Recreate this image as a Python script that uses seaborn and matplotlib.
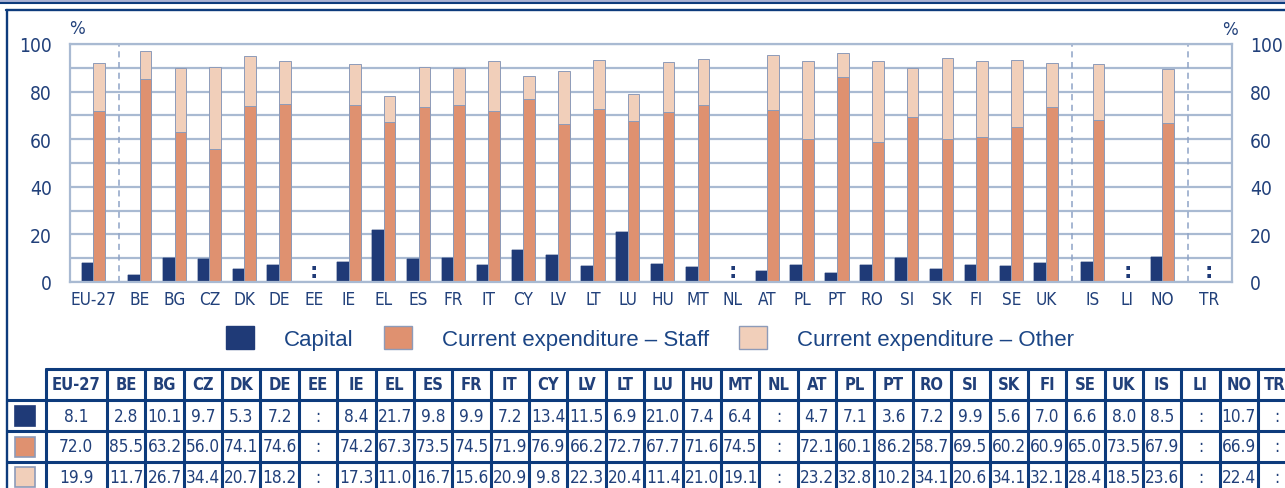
import numpy as np
import pandas as pd
import matplotlib
matplotlib.use("Agg")
import matplotlib.pyplot as plt
from matplotlib import font_manager as fm
from matplotlib.patches import Patch, Rectangle
import seaborn as sns

nan = np.nan

# Distribution of education expenditure by type (% of total)
countries = ["EU-27", "BE", "BG", "CZ", "DK", "DE", "EE", "IE", "EL", "ES", "FR",
             "IT", "CY", "LV", "LT", "LU", "HU", "MT", "NL", "AT", "PL", "PT",
             "RO", "SI", "SK", "FI", "SE", "UK", "IS", "LI", "NO", "TR"]
capital = [8.1, 2.8, 10.1, 9.7, 5.3, 7.2, nan, 8.4, 21.7, 9.8, 9.9,
           7.2, 13.4, 11.5, 6.9, 21.0, 7.4, 6.4, nan, 4.7, 7.1, 3.6,
           7.2, 9.9, 5.6, 7.0, 6.6, 8.0, 8.5, nan, 10.7, nan]
staff = [72.0, 85.5, 63.2, 56.0, 74.1, 74.6, nan, 74.2, 67.3, 73.5, 74.5,
         71.9, 76.9, 66.2, 72.7, 67.7, 71.6, 74.5, nan, 72.1, 60.1, 86.2,
         58.7, 69.5, 60.2, 60.9, 65.0, 73.5, 67.9, nan, 66.9, nan]
other = [19.9, 11.7, 26.7, 34.4, 20.7, 18.2, nan, 17.3, 11.0, 16.7, 15.6,
         20.9, 9.8, 22.3, 20.4, 11.4, 21.0, 19.1, nan, 23.2, 32.8, 10.2,
         34.1, 20.6, 34.1, 32.1, 28.4, 18.5, 23.6, nan, 22.4, nan]
series_labels = ["Capital", "Current expenditure \u2013 Staff",
                 "Current expenditure \u2013 Other"]
group_starts = ["BE", "IS", "TR"]
y_ticks = [0, 20, 40, 60, 80, 100]

NAVY = "#1f3a77"
STAFF = "#df9170"
OTHER = "#f1cfba"
EDGE = "#8d9bb9"
GRID = "#a9bad2"
FRAME = "#0d3b7c"
LAVENDER = "#a8b1d3"
TXT = "#21407a"
LEG_TXT = "#1b4585"

sns.set_style("white")

# pick a narrow sans face when one is available
entries = fm.fontManager.ttflist
if any(f.name == "Liberation Sans Narrow" for f in entries):
    NARROW = dict(family=["Liberation Sans Narrow", "DejaVu Sans"])
    nscale = 1.0
elif any(f.name == "DejaVu Sans" and str(f.stretch) in ("condensed", "semi-condensed")
         for f in entries):
    NARROW = dict(family=["DejaVu Sans"], stretch="condensed")
    nscale = 0.95
else:
    NARROW = dict(family=["Liberation Sans", "DejaVu Sans"])
    nscale = 0.86
plt.rcParams["font.family"] = ["Liberation Sans", "DejaVu Sans"]


def nfont(size, weight="normal"):
    return fm.FontProperties(size=size * nscale, weight=weight, **NARROW)


W, H = 1285, 489
fig = plt.figure(figsize=(W / 100, H / 100), dpi=100)

# category positions, with a small extra gap between country groups
gap = 0.33
pos = []
p = 0.0
for c in countries:
    if c in group_starts:
        p += gap
    pos.append(p)
    p += 1.0

rows = []
for x, k, s, o in zip(pos, capital, staff, other):
    if np.isnan(k):
        continue
    rows.append({"pos": x, "part": "Capital", "total": k, "staff": k})
    rows.append({"pos": x, "part": "Current", "total": s + o, "staff": s})
df = pd.DataFrame(rows)

ax = fig.add_axes([70 / W, 1 - 283 / H, (1232 - 70) / W, (283 - 45) / H])
common = dict(data=df, x="pos", hue="part", hue_order=["Capital", "Current"],
              native_scale=True, dodge=True, width=0.67, errorbar=None,
              legend=False, orient="x", saturation=1, linewidth=0.7,
              edgecolor=EDGE, ax=ax)
# full current bar (staff + other), then the staff part over it
sns.barplot(y="total", palette={"Capital": NAVY, "Current": OTHER}, **common)
sns.barplot(y="staff", palette={"Capital": NAVY, "Current": STAFF}, **common)
for patch in ax.patches:
    if matplotlib.colors.to_hex(patch.get_facecolor()) == NAVY:
        patch.set_edgecolor(NAVY)
        patch.set_linewidth(0.3)

# missing data marker
for x, k in zip(pos, capital):
    if np.isnan(k):
        ax.text(x, 2.0, ":", ha="center", va="baseline",
                fontproperties=fm.FontProperties(family=["DejaVu Sans"],
                                                 size=15, weight="bold"),
                color=NAVY)

# dashed separators between country groups
for c in group_starts:
    xs = pos[countries.index(c)] - 0.6
    ax.axvline(xs, ymin=0, ymax=1, color="#8ea3c6", lw=1.1,
               ls=(0, (4, 3)), zorder=1)

ax.set_xlim(-0.668, 32.66)
ax.set_ylim(0, 100)
ax.set_yticks(y_ticks)
ax.set_yticks([10, 30, 50, 70, 90], minor=True)
ax.grid(True, which="both", axis="y", color=GRID, lw=1.6)
ax.grid(False, axis="x")
ax.set_axisbelow(True)
ax.set_xticks(pos)
ax.set_xticklabels(countries)
ax.set_yticklabels([str(v) for v in y_ticks])
ax.set_xlabel("")
ax.set_ylabel("")
ax.tick_params(axis="x", length=0, pad=6, labelcolor=TXT)
ax.tick_params(axis="y", which="both", length=0, pad=13, labelcolor=TXT,
               labelleft=True, labelright=True)
for lab in ax.get_xticklabels():
    lab.set_fontproperties(nfont(13))
for t in ax.yaxis.get_major_ticks():
    t.label2.set_fontproperties(nfont(14.5))
    t.label1.set_fontproperties(nfont(14.5))
for side in ["left", "right", "bottom", "top"]:
    ax.spines[side].set_visible(True)
    ax.spines[side].set_color(GRID)
    ax.spines[side].set_linewidth(1.6)

fig.text(77 / W, 1 - 29 / H, "%", ha="center", va="center",
         fontproperties=nfont(14), color=TXT)
fig.text(1230 / W, 1 - 30 / H, "%", ha="center", va="center",
         fontproperties=nfont(14), color=TXT)

# legend
handles = [Patch(facecolor=NAVY, edgecolor=NAVY),
           Patch(facecolor=STAFF, edgecolor=EDGE),
           Patch(facecolor=OTHER, edgecolor=EDGE)]
fig.legend(handles, series_labels, loc="center",
           bbox_to_anchor=(650 / W, 1 - 339 / H), ncol=3, frameon=False,
           prop={"family": ["Liberation Sans", "DejaVu Sans"], "size": 16},
           labelcolor=LEG_TXT, handlelength=1.26, handleheight=1.22,
           handletextpad=1.35, columnspacing=1.35)

# frame and data table, laid out in pixel units
tab = fig.add_axes([0, 0, 1, 1])
tab.set_xlim(0, W)
tab.set_ylim(H, 0)
tab.axis("off")

tab.add_patch(Rectangle((0, 0), W, 2.7, color=LAVENDER, lw=0))
tab.plot([0, W], [3.7, 3.7], color=FRAME, lw=1.5)
tab.plot([6, W], [11, 11], color=FRAME, lw=1.7)
tab.plot([7, 7], [11, H], color=FRAME, lw=1.7)

col_edges = [45.7, 107.0] + [107.0 + 38.37 * k for k in range(1, len(countries))]
col_edges.append(col_edges[-1] + 38.37)
row_edges = [370, 401, 432, 463, 494]
tlw = 2.2
tab.plot([col_edges[0], W], [row_edges[0]] * 2, color=FRAME, lw=tlw)
for yv in row_edges[1:4]:
    tab.plot([7, W], [yv, yv], color=FRAME, lw=tlw)
for xv in col_edges:
    tab.plot([xv, xv], [row_edges[0], H], color=FRAME, lw=tlw)

centers = [(a + b) / 2 for a, b in zip(col_edges[:-1], col_edges[1:])]
row_mid = [(a + b) / 2 for a, b in zip(row_edges[:-1], row_edges[1:])]
for cx, name in zip(centers, countries):
    tab.text(min(cx, W - 10), row_mid[0], name, ha="center", va="center",
             fontproperties=nfont(12.5, "bold"), color=TXT)
for r, (vals, col, ec) in enumerate([(capital, NAVY, NAVY),
                                      (staff, STAFF, EDGE),
                                      (other, OTHER, EDGE)]):
    ym = row_mid[r + 1] if r < 2 else 478
    tab.add_patch(Rectangle((15, ym - 10), 20, 20, facecolor=col,
                            edgecolor=ec, lw=1.2))
    for cx, v in zip(centers, vals):
        s = ":" if np.isnan(v) else f"{v:.1f}"
        tab.text(min(cx, W - 8), ym, s, ha="center", va="center",
                 fontproperties=nfont(13), color=TXT)

fig.savefig("out.png", dpi=100)
